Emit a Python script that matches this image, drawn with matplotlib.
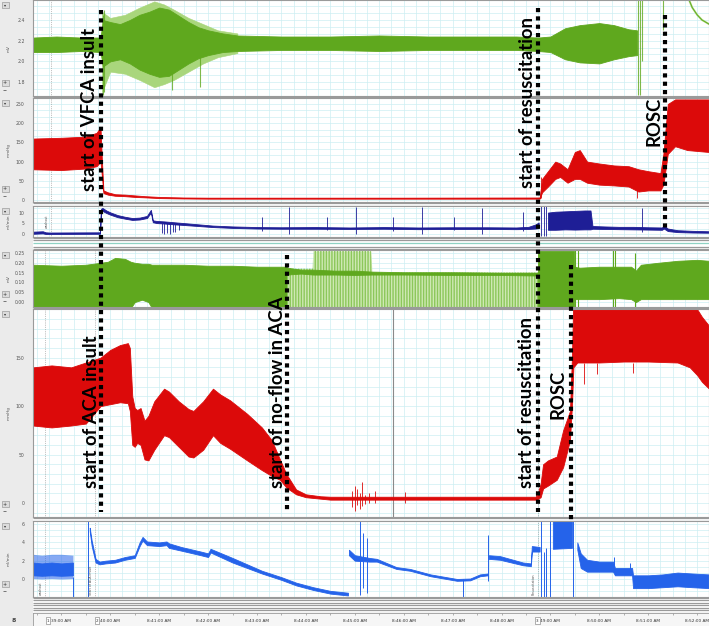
import matplotlib
matplotlib.use("Agg")
import matplotlib.pyplot as plt
from matplotlib.ticker import MultipleLocator, FixedLocator, FormatStrFormatter
from matplotlib.patches import Rectangle

# ======================= DATA (time in minutes after 8:00 AM) =======================
# ---- top recording (VFCA) : ECG ----
ecg1_t = [38.42, 38.9, 39.4, 39.80, 39.85, 40.00, 40.20, 40.40, 40.60, 40.80, 41.00, 41.20, 41.40,
          41.60, 41.80, 42.00, 42.30, 42.60, 43.5, 44.5, 45.5, 46.5, 47.5, 48.3, 48.75, 49.0, 49.3,
          49.6, 50.0, 50.3, 50.6, 50.77]
ecg1_hi = [2.23, 2.24, 2.23, 2.23, 2.40, 2.38, 2.36, 2.40, 2.45, 2.48, 2.52, 2.50, 2.44, 2.38, 2.33,
           2.30, 2.27, 2.25, 2.24, 2.24, 2.25, 2.24, 2.24, 2.24, 2.23, 2.24, 2.32, 2.35, 2.37, 2.35,
           2.31, 2.30]
ecg1_lo = [2.09, 2.09, 2.10, 2.09, 1.95, 2.00, 2.02, 1.98, 1.92, 1.88, 1.85, 1.86, 1.92, 1.98, 2.03,
           2.06, 2.09, 2.10, 2.11, 2.11, 2.10, 2.11, 2.11, 2.11, 2.10, 2.09, 2.02, 1.99, 1.98, 2.02,
           2.05, 2.06]
ecg1_out_t = [39.83, 40.0, 40.3, 40.6, 40.9, 41.1, 41.3, 41.6, 41.9, 42.2, 42.6]
ecg1_out_hi = [2.48, 2.42, 2.45, 2.52, 2.58, 2.55, 2.50, 2.42, 2.36, 2.30, 2.27]
ecg1_out_lo = [1.70, 1.90, 1.88, 1.82, 1.75, 1.78, 1.82, 1.90, 1.98, 2.04, 2.08]
ecg1_tail_t = [51.83, 51.90, 52.00, 52.10, 52.243]
ecg1_tail_v = [2.60, 2.52, 2.45, 2.40, 2.36]
ecg1_spk_t = [39.86, 39.88, 41.27, 41.84, 50.79, 50.83, 50.87, 51.30]
ecg1_spk_lo = [1.67, 1.70, 1.72, 1.75, 1.67, 1.67, 2.00, 2.30]
ecg1_spk_hi = [2.45, 2.50, 2.30, 2.25, 2.60, 2.60, 2.60, 2.60]

# ---- top recording : arterial pressure (mmHg) ----
abp1_t = [38.42, 39.0, 39.5, 39.72, 39.80, 39.83, 39.86, 39.95, 40.10, 40.30, 40.50, 40.70, 41.00,
          41.50, 42.0, 44.0, 46.0, 48.78, 48.83, 48.95, 49.10, 49.20, 49.35, 49.50, 49.60, 49.75,
          50.00, 50.30, 50.60, 50.80, 51.00, 51.25, 51.31, 51.40, 51.55, 51.80, 52.243]
abp1_hi = [160, 162, 165, 175, 190, 100, 25, 20, 15, 14, 12, 10, 8, 6.5, 6, 6, 6, 6.5, 55, 75, 100,
           95, 80, 125, 130, 100, 95, 90, 88, 80, 75, 70, 120, 250, 262, 262, 262]
abp1_lo = [80, 78, 82, 88, 100, 60, 18, 14, 11, 10, 8, 7, 5, 4, 3.5, 3.5, 3.5, 3.5, 20, 35, 55, 60,
           45, 55, 55, 45, 40, 38, 35, 22, 25, 25, 40, 120, 140, 130, 125]
abp1_spk_t = [48.80, 50.78]
abp1_spk_lo = [5, 5]
abp1_spk_hi = [60, 60]

# ---- top recording : flow ----
cbf1_t = [38.42, 38.62, 38.68, 38.75, 39.79, 39.81, 39.84, 39.92, 40.00, 40.15, 40.30, 40.45, 40.60,
          40.75, 40.83, 40.87, 40.95, 41.10, 41.30, 41.50, 41.80, 42.10, 42.50, 43.00, 43.50, 44.20,
          44.90, 45.60, 46.30, 47.00, 47.70, 48.30, 48.55, 48.70, 48.76]
cbf1_hi = [1.1, 1.3, 0.8, 0.7, 0.8, 12.0, 12.4, 11.2, 10.3, 9.0, 8.2, 7.6, 7.8, 8.6, 11.5, 6.5, 6.2,
           6.0, 5.6, 5.2, 4.6, 4.0, 3.6, 3.3, 3.2, 3.3, 3.1, 3.3, 3.1, 3.2, 3.2, 3.1, 3.4, 4.6, 5.5]
cbf1_lo = [0.1, 0.3, 0.0, 0.0, 0.1, 10.5, 11.0, 10.0, 9.2, 8.0, 7.3, 6.7, 6.9, 7.6, 10.2, 5.6, 5.2,
           5.0, 4.6, 4.3, 3.8, 3.3, 2.9, 2.6, 2.5, 2.5, 2.4, 2.5, 2.3, 2.4, 2.4, 2.3, 2.4, 2.6, 2.8]
cbf1b_t = [48.95, 49.10, 49.30, 49.50, 49.70, 49.82, 49.86, 50.10, 50.40, 50.70, 51.00, 51.28, 51.32,
           51.40, 51.60, 51.90, 52.243]
cbf1b_hi = [10.2, 10.6, 10.8, 11.0, 11.2, 11.2, 3.8, 3.6, 3.4, 3.4, 3.2, 3.1, 4.0, 2.6, 1.8, 1.5, 1.3]
cbf1b_lo = [2.0, 2.0, 2.2, 2.1, 2.2, 2.2, 2.5, 2.4, 2.3, 2.2, 2.1, 2.0, 2.6, 1.4, 0.9, 0.7, 0.6]
cbf1_spk_t = [41.05, 41.10, 41.16, 41.22, 41.28, 41.33, 41.40, 43.10, 43.65, 44.43, 45.02, 45.78,
              46.37, 47.03, 47.60, 48.44, 48.80, 48.86, 48.90, 50.87]
cbf1_spk_lo = [0.3, 0.0, 0.5, 0.0, 0.8, 1.0, 2.0, 1.5, 0.0, 2.0, 0.0, 1.5, 0.0, 2.0, 0.0, 1.5, -1.0,
               -1.0, -1.0, 1.0]
cbf1_spk_hi = [5.0, 5.0, 5.0, 5.0, 5.0, 5.0, 5.0, 8.0, 13.0, 8.0, 13.0, 8.0, 13.0, 8.0, 12.5, 10.5,
               13.3, 13.3, 13.3, 12.5]

# ---- bottom recording (ACA) : ECG ----
ecg2_a_t = [38.42, 39.0, 39.5, 39.80, 39.95, 40.10, 40.30, 40.42, 40.50, 40.65, 40.78, 40.85, 41.5,
            42.0, 42.5, 43.0, 43.61]
ecg2_a_hi = [0.19, 0.185, 0.19, 0.20, 0.205, 0.225, 0.22, 0.205, 0.200, 0.195, 0.195, 0.19, 0.19,
             0.185, 0.185, 0.18, 0.18]
ecg2_a_lo = [-0.03, -0.03, -0.03, -0.03, -0.03, -0.03, -0.03, -0.03, 0.0, 0.012, 0.0, -0.03, -0.03,
             -0.03, -0.03, -0.03, -0.03]
ecg2_light_t = [43.61, 44.14, 44.15, 45.33, 45.35, 48.75]
ecg2_light_hi = [0.17, 0.17, 0.26, 0.26, 0.15, 0.15]
ecg2_light_lo = [-0.03, -0.03, -0.03, -0.03, -0.03, -0.03]
ecg2_band_t = [43.61, 43.9, 44.15, 44.6, 45.0, 45.35, 46.0, 47.0, 48.0, 48.75]
ecg2_band_hi = [0.175, 0.165, 0.165, 0.16, 0.16, 0.155, 0.152, 0.152, 0.15, 0.15]
ecg2_band_lo = [0.14, 0.145, 0.14, 0.14, 0.138, 0.14, 0.14, 0.138, 0.138, 0.135]
ecg2_b_t = [48.75, 49.48]
ecg2_b_hi = [0.26, 0.26]
ecg2_b_lo = [-0.03, -0.03]
ecg2_c_t = [49.48, 49.6, 50.0, 50.4, 50.65, 50.75, 50.85, 51.2, 51.6, 52.0, 52.243]
ecg2_c_hi = [0.18, 0.175, 0.18, 0.18, 0.18, 0.16, 0.19, 0.20, 0.21, 0.215, 0.21]
ecg2_c_lo = [0.015, 0.015, 0.015, 0.02, 0.015, 0.0, 0.015, 0.015, 0.015, 0.015, 0.015]
ecg2_spk_t = [49.50, 49.56, 50.27, 50.33, 50.72]
ecg2_spk_lo = [-0.03, -0.03, -0.03, -0.03, -0.03]
ecg2_spk_hi = [0.265, 0.265, 0.265, 0.265, 0.25]

# ---- bottom recording : arterial pressure (mmHg) ----
abp2_t = [38.42, 38.8, 39.2, 39.5, 39.80, 40.00, 40.20, 40.36, 40.40, 40.45, 40.50, 40.55, 40.62,
          40.70, 40.78, 40.90, 41.10, 41.20, 41.40, 41.60, 41.70, 41.90, 42.10, 42.25, 42.45, 42.80,
          43.10, 43.30, 43.47, 43.60, 43.80, 44.00, 44.30, 44.50, 46.0, 48.0, 48.72]
abp2_hi = [140, 142, 140, 145, 150, 158, 163, 165, 160, 110, 98, 96, 98, 85, 90, 105, 118, 115, 105,
           97, 95, 105, 118, 112, 106, 92, 78, 65, 45, 30, 14, 9, 7, 6.5, 6.5, 6.5, 6.5]
abp2_lo = [80, 78, 80, 82, 100, 102, 104, 103, 95, 60, 58, 62, 60, 45, 44, 55, 70, 68, 58, 48, 47,
           55, 70, 62, 56, 44, 34, 28, 24, 16, 9, 6, 4.5, 3.5, 3.5, 3.5, 3.5]
abp2b_t = [48.72, 48.80, 48.85, 48.95, 49.13, 49.26, 49.40, 49.44, 49.47, 49.55, 50.0, 50.5, 51.0,
           51.6, 51.85, 52.0, 52.10, 52.243]
abp2b_hi = [6.5, 20, 40, 44, 48, 75, 95, 150, 215, 215, 215, 215, 215, 215, 212, 200, 192, 183]
abp2b_lo = [3.5, 6, 15, 18, 24, 37, 65, 100, 140, 145, 145, 146, 146, 145, 140, 132, 125, 118]
abp2_spk_t = [44.95, 45.00, 45.05, 45.10, 45.15, 45.20, 45.30, 45.42, 46.03, 48.70, 49.68, 49.95, 50.68]
abp2_spk_lo = [-4, -8, -2, -6, -3, -1, 0, 0, 0, 0, 123, 133, 134]
abp2_spk_hi = [12, 18, 14, 10, 22, 8, 10, 12, 11, 12, 145, 145, 145]
abp2_cursor_t = [45.78]

# ---- bottom recording : flow ----
cbf2_a_t = [38.42, 38.6, 38.8, 39.0, 39.237]
cbf2_a_out_hi = [2.7, 2.6, 2.7, 2.7, 2.6]
cbf2_a_out_lo = [0.05, 0.0, 0.05, 0.0, 0.05]
cbf2_a_hi = [1.8, 1.7, 1.8, 1.7, 1.8]
cbf2_a_lo = [0.4, 0.35, 0.4, 0.35, 0.4]
cbf2_b_t = [39.58, 39.62, 39.70, 39.78, 39.90, 40.10, 40.30, 40.50, 40.60, 40.66, 40.75, 41.00, 41.15,
            41.20, 41.45, 41.85, 42.00, 42.05, 42.50, 42.80, 43.10, 43.50, 43.80, 44.15, 44.50, 44.86]
cbf2_b_hi = [5.6, 4.2, 2.2, 1.9, 2.0, 2.1, 2.4, 2.6, 4.0, 4.6, 4.1, 4.0, 4.1, 3.9, 3.5, 3.0, 2.8, 3.3,
             2.3, 1.6, 0.9, 0.2, -0.4, -0.9, -1.3, -1.5]
cbf2_b_lo = [5.2, 3.6, 1.8, 1.6, 1.7, 1.8, 2.1, 2.3, 3.6, 4.2, 3.7, 3.6, 3.7, 3.4, 3.1, 2.6, 2.4, 2.9,
             1.8, 1.2, 0.6, -0.1, -0.7, -1.2, -1.6, -1.8]
cbf2_c_t = [44.88, 45.00, 45.30, 45.45, 45.85, 46.13, 46.55, 47.09, 47.36, 47.56, 47.72]
cbf2_c_hi = [3.2, 2.6, 2.3, 2.2, 1.3, 1.1, 0.5, 0.0, 0.05, 0.5, 0.6]
cbf2_c_lo = [2.6, 2.0, 1.9, 1.9, 1.1, 0.9, 0.3, -0.2, -0.15, 0.3, 0.4]
cbf2_d_t = [47.74, 47.97, 48.44, 48.60, 48.62, 48.78]
cbf2_d_hi = [2.6, 2.5, 1.8, 1.7, 3.6, 3.5]
cbf2_d_lo = [2.2, 2.1, 1.5, 1.4, 3.0, 3.0]
cbf2_e_t = [49.05, 49.44]
cbf2_e_hi = [6.5, 6.5]
cbf2_e_lo = [3.3, 3.4]
cbf2_f_t = [49.55, 49.62, 49.75, 50.00, 50.28, 50.32, 50.67, 50.69, 51.00, 51.30, 51.60, 51.90, 52.243]
cbf2_f_hi = [4.0, 2.8, 2.1, 1.9, 1.9, 1.2, 1.2, 0.4, 0.4, 0.5, 0.7, 0.6, 0.5]
cbf2_f_lo = [3.2, 1.2, 0.8, 0.8, 0.8, 0.4, 0.4, -1.0, -1.0, -0.9, -0.8, -0.9, -1.0]
cbf2_spk_t = [39.237, 39.545, 45.10, 45.16, 45.25, 47.21, 47.72, 48.80, 48.86, 48.90, 48.99, 49.47,
              50.30, 50.62]
cbf2_spk_lo = [-2.0, -2.0, -1.8, -1.0, -1.5, -2.0, -0.2, -2.0, -2.0, -2.0, -2.0, -2.0, 0.8, 0.4]
cbf2_spk_hi = [0.2, 6.4, 6.3, 5.0, 4.5, 0.0, 4.8, 6.4, 3.0, 3.4, 6.4, 6.4, 2.4, 1.8]

# ---- comment markers ----
top_marker_t = [38.79]
top_marker_lbl = ["washout"]
bot_marker_t = [38.67, 39.69, 48.74]
bot_marker_lbl = ["washout", "Start of ACA insult", "Resuscitation"]

# ---- time axis ----
time_ticks = [39, 40, 41, 42, 43, 44, 45, 46, 47, 48, 49, 50, 51, 52]
time_labels = ["39:00 AM", "40:00 AM", "8:41:00 AM", "8:42:00 AM", "8:43:00 AM", "8:44:00 AM",
               "8:45:00 AM", "8:46:00 AM", "8:47:00 AM", "8:48:00 AM", "49:00 AM", "8:50:00 AM",
               "8:51:00 AM", "8:52:00 AM"]
block_ticks = [39, 40, 49]
block_labels = ["1", "2", "3"]

# ---- annotations (event lines and labels) ----
event_t = [39.81, 48.75, 51.34, 43.61, 49.42]
event_row_top = [10, 8, 15, 255, 265]
event_row_bot = [512, 512, 228, 512, 523]
label_text = ["start of VFCA insult", "start of resuscitation", "ROSC", "start of ACA insult",
              "start of no-flow in ACA", "start of resuscitation", "ROSC"]
label_t = [39.585, 48.53, 51.12, 39.61, 43.41, 48.52, 49.16]
label_row = [109, 103, 121, 412, 392, 402, 394]

# ======================= FIGURE =======================
W, H = 709, 626
LEFT = 33
XLIM = (38.42, 52.243)
GRID = '#cdeef3'
GREEN = '#5fa81e'
LGREEN = '#a9d67c'
RED = '#dc0a0a'
NAVY = '#1e1e96'
BLUE = '#2563ea'

fig = plt.figure(figsize=(W / 100, H / 100), dpi=100)
fig.patch.set_facecolor('#ebebeb')

bg = fig.add_axes([0, 0, 1, 1], zorder=0)
bg.set_xlim(0, W)
bg.set_ylim(H, 0)
bg.axis('off')
bg.add_patch(Rectangle((LEFT, 0), W - LEFT, H, fc='white', ec='none'))
stripe_rows = [97, 202.5, 205.5, 237.5, 240, 246.5, 249, 308, 517.5, 520.5,
               597.5, 600, 602.5, 605, 607.5, 610, 612.5]
bg.hlines(stripe_rows, LEFT, W, color='#9a9a9a', lw=0.9)
bg.hlines([243.3], LEFT, W, color='#8fd3c4', lw=0.9)

panels = {}


def panel(name, top, bottom, ylim, ticks, fmt, ystep, unit):
    ax = fig.add_axes([LEFT / W, 1 - bottom / H, (W - LEFT) / W, (bottom - top) / H], zorder=1)
    ax.set_xlim(*XLIM)
    ax.set_ylim(*ylim)
    ax.set_facecolor('white')
    ax.xaxis.set_major_locator(MultipleLocator(1))
    ax.xaxis.set_minor_locator(MultipleLocator(0.25))
    ax.yaxis.set_major_locator(FixedLocator(ticks))
    ax.yaxis.set_minor_locator(MultipleLocator(ystep))
    ax.yaxis.set_major_formatter(FormatStrFormatter(fmt))
    ax.grid(True, which='both', color=GRID, lw=0.5)
    ax.set_axisbelow(True)
    ax.tick_params(axis='x', which='both', length=0, labelbottom=False)
    ax.tick_params(axis='y', which='both', length=0, labelsize=3.3, pad=6, labelcolor='#555555')
    for s in ax.spines.values():
        s.set_color('#9a9a9a')
        s.set_linewidth(0.8)
    # side decorations: unit label and small buttons
    bg.text(9, (top + bottom) / 2, unit, rotation=90, fontsize=3, color='#555555',
            ha='center', va='center')
    bg.add_patch(Rectangle((1.5, top + 2), 7, 6, fc='#dcdcdc', ec='#8a8a8a', lw=0.4))
    bg.text(5, top + 5, '▾', fontsize=3, ha='center', va='center', color='#333')
    if bottom - top > 40:
        bg.add_patch(Rectangle((1.5, bottom - 16), 7, 6, fc='#dcdcdc', ec='#8a8a8a', lw=0.4))
        bg.text(5, bottom - 13, '+', fontsize=3.5, ha='center', va='center', color='#333')
        bg.text(5, bottom - 5, '−', fontsize=3.5, ha='center', va='center', color='#333')
    panels[name] = ax
    return ax


def band(ax, t, lo, hi, color, alpha=1.0, lw=0.6, z=2, hatch=None):
    if hatch:
        ax.fill_between(t, lo, hi, facecolor='none', edgecolor=color, hatch=hatch,
                        linewidth=0, zorder=z)
    else:
        ax.fill_between(t, lo, hi, color=color, alpha=alpha, linewidth=lw, zorder=z)


ax1 = panel('ecg1', 0, 96, (1.665, 2.593), [1.8, 2.0, 2.2, 2.4], '%.1f', 0.2 / 3, 'mV')
ax2 = panel('abp1', 98, 202, (-5.2, 265.6), [0, 50, 100, 150, 200, 250], '%d', 50 / 3, 'mmHg')
ax3 = panel('cbf1', 206, 237, (-1.43, 13.33), [0, 5, 10], '%d', 2.5, 'ml/min')
ax4 = panel('ecg2', 250, 307, (-0.025, 0.265), [0.0, 0.05, 0.10, 0.15, 0.20, 0.25], '%.2f', 0.025, 'mV')
ax5 = panel('abp2', 309, 517, (-14.4, 200.2), [0, 50, 100, 150], '%d', 10, 'mmHg')
ax6 = panel('cbf2', 521, 597, (-1.97, 6.34), [0, 2, 4, 6], '%d', 2 / 3, 'ml/min')

# --- comment markers ---
for ax in (ax1, ax2, ax3):
    ax.vlines(top_marker_t, *ax.get_ylim(), color='#888888', lw=0.5, linestyles=':', zorder=1.5)
for ax in (ax4, ax5, ax6):
    ax.vlines(bot_marker_t, *ax.get_ylim(), color='#888888', lw=0.5, linestyles=':', zorder=1.5)
for t, s in zip(top_marker_t, top_marker_lbl):
    ax3.text(t - 0.04, 0.5, s, transform=ax3.get_xaxis_transform(), rotation=90, fontsize=2.3,
             ha='right', va='center', color='#555555')
for t, s in zip(bot_marker_t, bot_marker_lbl):
    ax6.text(t - 0.04, 0.03, s, transform=ax6.get_xaxis_transform(), rotation=90, fontsize=2.3,
             ha='right', va='bottom', color='#555555')

# --- top recording ---
band(ax1, ecg1_out_t, ecg1_out_lo, ecg1_out_hi, LGREEN, lw=0.4)
band(ax1, ecg1_t, ecg1_lo, ecg1_hi, GREEN)
ax1.vlines(ecg1_spk_t, ecg1_spk_lo, ecg1_spk_hi, color=GREEN, lw=0.8, alpha=0.8)
ax1.plot(ecg1_tail_t, ecg1_tail_v, color=LGREEN, lw=1.4)
ax1.plot(ecg1_tail_t, ecg1_tail_v, color=GREEN, lw=0.6)

band(ax2, abp1_t, abp1_lo, abp1_hi, RED)
ax2.vlines(abp1_spk_t, abp1_spk_lo, abp1_spk_hi, color=RED, lw=0.6)

band(ax3, cbf1_t, cbf1_lo, cbf1_hi, NAVY)
band(ax3, cbf1b_t, cbf1b_lo, cbf1b_hi, NAVY)
ax3.vlines(cbf1_spk_t, cbf1_spk_lo, cbf1_spk_hi, color=NAVY, lw=0.6)

# --- bottom recording ---
band(ax4, ecg2_a_t, ecg2_a_lo, ecg2_a_hi, GREEN)
band(ax4, ecg2_light_t, ecg2_light_lo, ecg2_light_hi, '#cfe9b4', lw=0)
band(ax4, ecg2_light_t, ecg2_light_lo, ecg2_light_hi, '#8cc75a', hatch='||||||')
band(ax4, ecg2_band_t, ecg2_band_lo, ecg2_band_hi, GREEN)
band(ax4, ecg2_b_t, ecg2_b_lo, ecg2_b_hi, GREEN)
band(ax4, ecg2_c_t, ecg2_c_lo, ecg2_c_hi, GREEN)
ax4.vlines(ecg2_spk_t, ecg2_spk_lo, ecg2_spk_hi, color=GREEN, lw=0.8)

ax5.vlines(abp2_cursor_t, *ax5.get_ylim(), color='#8a8a8a', lw=0.8, zorder=1.8)
band(ax5, abp2_t, abp2_lo, abp2_hi, RED)
band(ax5, abp2b_t, abp2b_lo, abp2b_hi, RED)
ax5.vlines(abp2_spk_t, abp2_spk_lo, abp2_spk_hi, color=RED, lw=0.6)

band(ax6, cbf2_a_t, cbf2_a_out_lo, cbf2_a_out_hi, BLUE, alpha=0.55, lw=0)
band(ax6, cbf2_a_t, cbf2_a_lo, cbf2_a_hi, BLUE)
for t, lo, hi in ((cbf2_b_t, cbf2_b_lo, cbf2_b_hi), (cbf2_c_t, cbf2_c_lo, cbf2_c_hi),
                  (cbf2_d_t, cbf2_d_lo, cbf2_d_hi), (cbf2_e_t, cbf2_e_lo, cbf2_e_hi),
                  (cbf2_f_t, cbf2_f_lo, cbf2_f_hi)):
    band(ax6, t, lo, hi, BLUE)
ax6.vlines(cbf2_spk_t, cbf2_spk_lo, cbf2_spk_hi, color=BLUE, lw=0.7)

# --- time axis strip ---
tax = fig.add_axes([LEFT / W, 0, (W - LEFT) / W, 13 / H], zorder=1)
tax.set_xlim(*XLIM)
tax.set_ylim(0, 1)
tax.set_facecolor('#f6f6f6')
tax.set_yticks([])
tax.set_xticks(time_ticks)
tax.set_xticks([t - 0.5 for t in time_ticks], minor=True)
tax.tick_params(axis='x', which='both', direction='in', length=1.5, width=0.4, color='#777',
                labelbottom=False, top=True, bottom=False)
for s in tax.spines.values():
    s.set_color('#9a9a9a')
    s.set_linewidth(0.6)
for t, s in zip(time_ticks, time_labels):
    tax.text(t, 0.42, s, fontsize=3.1, ha='center', va='center', color='#333333')
for t, s in zip(block_ticks, block_labels):
    tax.text(t - 0.27, 0.42, s, fontsize=3, ha='center', va='center', color='#333333',
             bbox=dict(boxstyle='square,pad=0.25', fc='white', ec='#777777', lw=0.4))
bg.text(14, 620, '8', fontsize=4.5, fontweight='bold', ha='center', va='center', color='#444')

# --- annotation overlay ---
ov = fig.add_axes([LEFT / W, 0, (W - LEFT) / W, 1], zorder=5)
ov.set_xlim(*XLIM)
ov.set_ylim(H, 0)
ov.axis('off')
for t, y0, y1 in zip(event_t, event_row_top, event_row_bot):
    ov.plot([t, t], [y0, y1], color='black', lw=3.0, linestyle=(0, (1, 1)),
            dash_capstyle='butt', solid_capstyle='butt')
for s, t, y in zip(label_text, label_t, label_row):
    ov.text(t, y, s, rotation=90, ha='center', va='center', fontsize=13.3, fontweight='bold',
            family=['Lato', 'DejaVu Sans'], color='black')

fig.savefig('out.png', dpi=100, facecolor=fig.get_facecolor())
